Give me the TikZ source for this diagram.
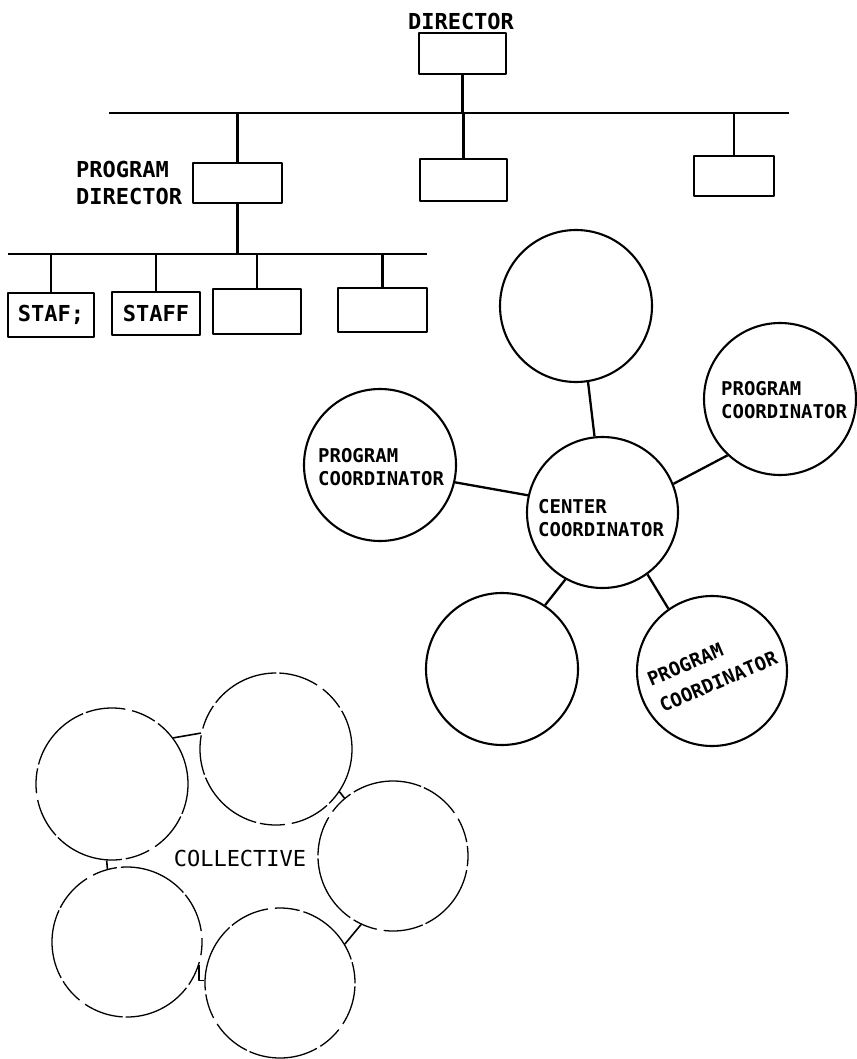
\documentclass[tikz,border=0pt]{standalone}
\usepackage{fontspec}
\newfontfamily\lettering{DejaVu Sans Mono}
\begin{document}
\begin{tikzpicture}[x=1pt,y=-1pt,
  line width=2.3pt, line join=round,
  box/.style={draw, rectangle, inner sep=0pt, line width=2.5pt},
  orb/.style={draw, circle, inner sep=0pt, line width=2.1pt},
  ring/.style={draw, circle, inner sep=0pt, line width=1.3pt,
    dash pattern=on 70pt off 4pt on 25pt off 7pt on 40pt off 3pt},
  tag/.style={inner sep=0pt, align=left,
    font=\lettering\bfseries\fontsize{22}{27}\selectfont},
  ctag/.style={inner sep=0pt, align=left,
    font=\lettering\bfseries\fontsize{19}{23}\selectfont},
  big/.style={inner sep=0pt, font=\lettering\fontsize{22}{26}\selectfont},
]
\fill[white] (0,0) rectangle (856,1059);
\useasboundingbox (0,0) rectangle (856,1059);

% ---------------- hierarchy ----------------
\node[tag] (ldir) at (461,21.5) {DIRECTOR};
\node[box, minimum width=87pt, minimum height=41pt] (dir) at (462.5,53.5) {};

\coordinate (busTL) at (109,113);
\coordinate (busTR) at (789,113);
\draw (busTL) -- (busTR);
\draw (dir.south) -- (dir.south |- busTL);

\node[box, minimum width=89pt, minimum height=40pt] (pd)  at (237.5,183) {};
\node[box, minimum width=87pt, minimum height=42pt] (mid) at (463.5,180) {};
\node[box, minimum width=80pt, minimum height=40pt] (rgt) at (734,176) {};
\node[tag, anchor=north west] (lpd) at (75,160) {PROGRAM\\DIRECTOR};

\draw (pd.north)  -- (pd.north  |- busTL);
\draw (mid.north) -- (mid.north |- busTL);
\draw (rgt.north) -- (rgt.north |- busTL);

\coordinate (busBL) at (8,254);
\coordinate (busBR) at (427,254);
\draw (busBL) -- (busBR);
\draw (pd.south) -- (pd.south |- busBL);

\node[box, tag, minimum width=86pt, minimum height=44pt] (s1) at (51,315) {STAF;};
\node[box, tag, minimum width=88pt, minimum height=43pt] (s2) at (156,313.5) {STAFF};
\node[box, minimum width=88pt, minimum height=45pt] (s3) at (257,311.5) {};
\node[box, minimum width=89pt, minimum height=44pt] (s4) at (382.5,310) {};

\foreach \s in {s1,s2,s3,s4}
  \draw (\s.north) -- (\s.north |- busBL);

% ---------------- centre coordinator ----------------
\node[orb, minimum size=152pt] (top) at (576,306) {};
\node[orb, minimum size=152pt] (pcR) at (780,399) {};
\node[orb, minimum size=152pt] (pcL) at (380,465) {};
\node[orb, minimum size=151pt] (cc)  at (602.5,512.5) {};
\node[orb, minimum size=152pt] (ll)  at (502,669) {};
\node[orb, minimum size=150pt] (lr)  at (712,671) {};

\node[ctag, anchor=north west] (tL) at (317,447) {PROGRAM\\COORDINATOR};
\node[ctag, anchor=north west] (tR) at (720,380) {PROGRAM\\COORDINATOR};
\node[ctag, anchor=north west] (tC) at (537,498) {CENTER\\COORDINATOR};
\node[ctag, anchor=base west, rotate=23] (tLR1) at (650,687) {PROGRAM};
\node[ctag, anchor=base west, rotate=23] (tLR2) at (662,713) {COORDINATOR};

\draw (top.-81)  -- (cc.96);
\draw (pcL.-13.5) -- (cc.167);
\draw (cc.22)    -- (pcR.227);
\draw (cc.241)   -- (ll.56);
\draw (cc.-54.5) -- (lr.125);

% ---------------- collective ----------------
\node[ring, minimum size=152pt] (cA) at (112,784) {};
\node[ring, minimum size=152pt, dash phase=30pt] (cB) at (276,749) {};
\node[ring, minimum size=150pt, dash phase=60pt] (cC) at (393,856) {};
\node[ring, minimum size=150pt, dash phase=95pt] (cD) at (127,942) {};
\node[ring, minimum size=150pt, dash phase=125pt] (cE) at (280,983) {};

\node[big] (tcol) at (240,858) {COLLECTIVE};

\begin{scope}[line width=1.6pt]
\draw (cA.37.6) -- (cB.168);
\draw (cB.-34)  -- (cC.130);
\draw (cC.245)  -- (cE.31);
\draw (cD.-18)  |- (cE.178);
\draw (cA.-94)  -- (cD.105);
\end{scope}
\end{tikzpicture}
\end{document}
